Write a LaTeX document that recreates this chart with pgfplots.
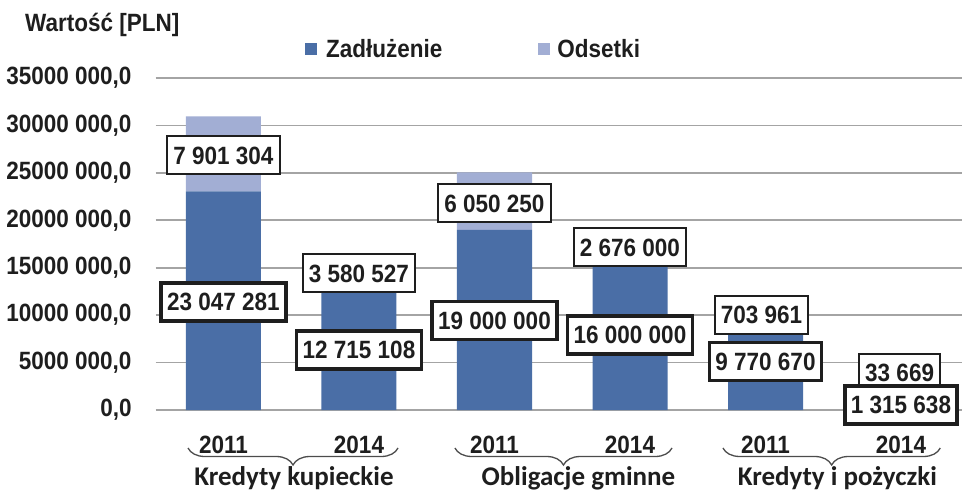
\documentclass[border=0pt]{standalone}
\usepackage{fontspec}
\setmainfont{Liberation Sans}[FakeStretch=0.9]
\newfontfamily\grpfont{Carlito}
\usepackage{pgfplots}
\pgfplotsset{compat=1.18}
\usetikzlibrary{decorations.pathreplacing}
\definecolor{dark}{HTML}{4A6EA6}
\definecolor{light}{HTML}{A2AED4}
\definecolor{gridc}{HTML}{A4A4A4}
\definecolor{txt}{HTML}{1E1E1E}
\newcommand{\bigf}{\fontsize{25}{30}\selectfont\bfseries}
\tikzset{
  lab/.style={draw=txt, fill=white, text=txt, font=\bigf, text height=18pt, text depth=0pt, inner xsep=6pt, inner ysep=10pt},
  labthin/.style={lab, line width=2pt},
  labthick/.style={lab, line width=3.5pt},
  grp/.style={anchor=base, text=txt, font=\grpfont\bfseries\fontsize{27}{32}\selectfont},
  br/.style={decorate, decoration={brace, mirror, amplitude=17pt}, line width=1.3pt, draw=black!70}
}
\begin{document}
\begin{tikzpicture}
\begin{axis}[
  name=ax, scale only axis,
  width=813pt, height=332pt,
  ybar stacked, bar width=75pt,
  xmin=-0.5, xmax=5.5, ymin=0, ymax=35000000,
  xtick={0,...,5}, xticklabels={2011,2014,2011,2014,2011,2014},
  ytick={0,5000000,10000000,15000000,20000000,25000000,30000000,35000000},
  yticklabels={{0,0},{5000 000,0},{10000 000,0},{15000 000,0},{20000 000,0},{25000 000,0},{30000 000,0},{35000 000,0}},
  scaled y ticks=false,
  major tick length=0pt,
  axis line style={draw=none},
  ymajorgrids, grid style={gridc, line width=1.6pt},
  tick label style={font=\bigf, text=txt, inner sep=0pt},
  yticklabel style={anchor=east, xshift=-24pt},
  xticklabel style={anchor=base, yshift=-43pt},
  clip=false,
  legend columns=4,
  legend style={draw=none, fill=none, inner sep=0pt, at={(0.1836,1.087)}, anchor=west,
    font=\bigf, text=txt, nodes={inner sep=0pt},
    /tikz/column 1/.style={column sep=9pt},
    /tikz/column 2/.style={column sep=96pt},
    /tikz/column 3/.style={column sep=7pt}},
  legend image code/.code={\fill[#1] (0pt,-6pt) rectangle (12pt,6pt);},
]
\addplot[fill=dark, draw=none] coordinates {(0,23047281) (1,12715108) (2,19000000) (3,16000000) (4,9770670) (5,1315638)};
\addlegendentry{Zadłużenie}
\addplot[fill=light, draw=none] coordinates {(0,7901304) (1,3580527) (2,6050250) (3,2676000) (4,703961) (5,33669)};
\addlegendentry{Odsetki}

\coordinate (O) at (rel axis cs:0,0);
\coordinate (L1) at (axis cs:0,26880000);
\coordinate (L2) at (axis cs:0,11390000);
\coordinate (L3) at (axis cs:1,14440000);
\coordinate (L4) at (axis cs:1,6330000);
\coordinate (L5) at (axis cs:2,21820000);
\coordinate (L6) at (axis cs:2,9440000);
\coordinate (L7) at (axis cs:3,17180000);
\coordinate (L8) at (axis cs:3,7910000);
\coordinate (L9) at (axis cs:3.97,10020000);
\coordinate (L10) at (axis cs:4,5110000);
\coordinate (L11) at (axis cs:4.99,3950000);
\coordinate (L12) at (axis cs:5,530000);

% group braces and labels
\draw[br] ([yshift=-38pt]axis cs:-0.262,0) -- ([yshift=-38pt]axis cs:1.288,0);
\draw[br] ([yshift=-38pt]axis cs:1.708,0) -- ([yshift=-38pt]axis cs:3.31,0);
\draw[br] ([yshift=-38pt]axis cs:3.686,0) -- ([yshift=-38pt]axis cs:5.29,0);
\node[grp] at ([yshift=-75pt]axis cs:0.52,0) {Kredyty kupieckie};
\node[grp] at ([yshift=-75pt]axis cs:2.62,0) {Obligacje gminne};
\node[grp] at ([yshift=-75pt]axis cs:4.53,0) {Kredyty i pożyczki};
\end{axis}
% value labels on top of the bars
\node[labthin]  at (L1) {7 901 304};
\node[labthick] at (L2) {23 047 281};
\node[labthin]  at (L3) {3 580 527};
\node[labthick] at (L4) {12 715 108};
\node[labthin]  at (L5) {6 050 250};
\node[labthick] at (L6) {19 000 000};
\node[labthin]  at (L7) {2 676 000};
\node[labthick] at (L8) {16 000 000};
\node[labthin]  at (L9) {703 961};
\node[labthick] at (L10) {9 770 670};
\node[labthin]  at (L11) {33 669};
\node[labthick] at (L12) {1 315 638};
\node[anchor=base west, text=txt, font=\bigf, inner sep=0pt] at ([shift={(-130.75pt,378pt)}]O) {Wartość [PLN]};
\pgfresetboundingbox
\path[use as bounding box] ([shift={(-155.75pt,-81pt)}]O) rectangle ([shift={(806.25pt,410pt)}]O);
\end{tikzpicture}
\end{document}
